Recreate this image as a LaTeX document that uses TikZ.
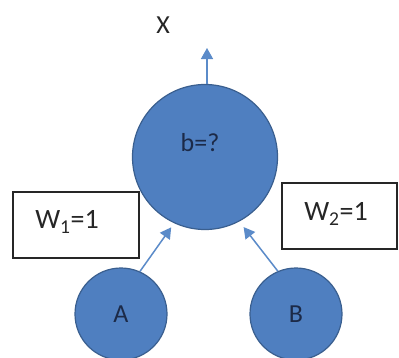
\documentclass[tikz,border=0pt]{standalone}
\usepackage{fontspec}
\setmainfont{Carlito}
\usetikzlibrary{arrows.meta}
\definecolor{cfill}{HTML}{4F7FC0}
\definecolor{cedge}{HTML}{3A5F8F}
\definecolor{carrow}{HTML}{5B8BC9}
\definecolor{ctext}{HTML}{1C2A48}
\begin{document}
\begin{tikzpicture}[x=1bp,y=-1bp,
  bubble/.style={circle,fill=cfill,draw=cedge,line width=1.2bp,inner sep=0pt,
    text=ctext,font=\fontsize{26bp}{30bp}\selectfont},
  lbl/.style={text=ctext,font=\fontsize{26bp}{30bp}\selectfont,inner sep=0pt},
  wbox/.style={draw=black!85,line width=1.3bp,fill=white},
  wtext/.style={text=black!85,font=\fontsize{28bp}{32bp}\selectfont,inner sep=0pt},
  conn/.style={draw=carrow,line width=1.5bp,-{Triangle[width=12bp,length=11bp]}}]
\useasboundingbox (0,0) rectangle (399,358);
\fill[white] (0,0) rectangle (399,358);
% boxes
\node[wbox,minimum width=126bp,minimum height=66bp] (w1box) at (76,225) {};
\node[wbox,minimum width=115bp,minimum height=66bp] (w2box) at (339.5,216) {};
\node[wtext] (w1) at (67,222) {W\textsubscript{1}=1};
\node[wtext] (w2) at (336,214) {W\textsubscript{2}=1};
% circles
\node[bubble,minimum size=145bp] (big) at (205,157) {};
\node[lbl] (bl) at (200,143) {b=?};
\node[bubble,minimum size=92bp] (A) at (121,314) {A};
\node[bubble,minimum size=92bp] (B) at (296,314) {B};
% output
\coordinate (xtip) at (207,48);
\node[lbl,text=black!85] (X) at (163,25) {X};
\draw[conn] (big.north -| xtip) -- (xtip);
% inputs
\draw[conn,shorten >=5bp] (A.66) -- (big.245);
\draw[conn,shorten >=7bp] (B.113) -- (big.298);
\end{tikzpicture}
\end{document}
